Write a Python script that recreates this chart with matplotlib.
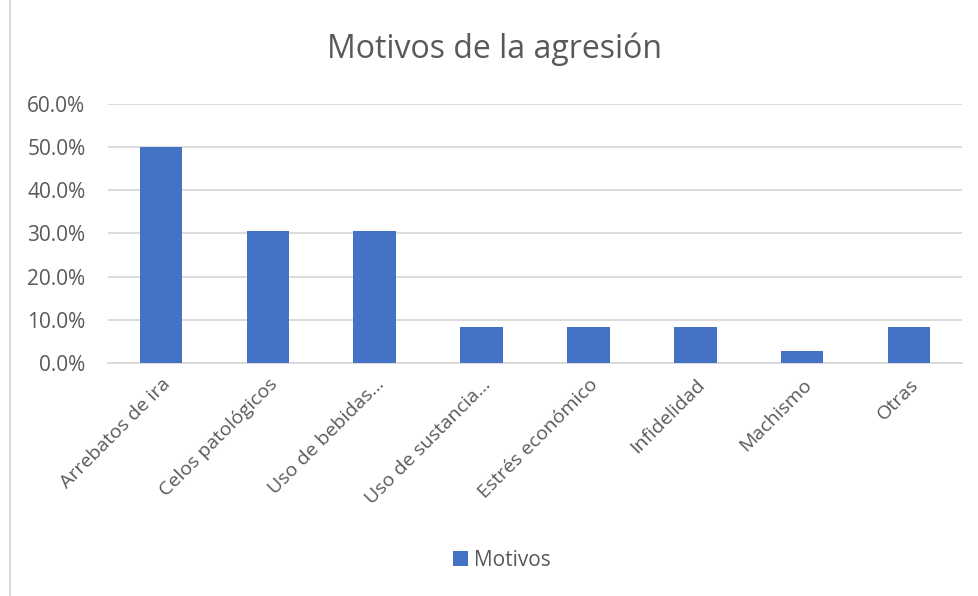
import matplotlib.pyplot as plt
from matplotlib.patches import Rectangle
from matplotlib.ticker import PercentFormatter

categories = ['Arrebatos de ira', 'Celos patológicos', 'Uso de bebidas…', 'Uso de sustancia…',
              'Estrés económico', 'Infidelidad', 'Machismo', 'Otras']
values = [0.500, 0.306, 0.306, 0.083, 0.083, 0.083, 0.028, 0.083]

text_color = '#595959'
bar_color = '#4472C4'
grid_color = '#D9D9D9'

plt.rcParams['font.family'] = ['Open Sans', 'DejaVu Sans']

fig = plt.figure(figsize=(9.79, 5.96), dpi=100)
ax = fig.add_axes([0.110, 0.391, 0.873, 0.4345])

x = range(len(categories))
ax.bar(x, values, width=0.4, color=bar_color, label='Motivos', zorder=3)

ax.set_ylim(0, 0.6)
ax.set_xlim(-0.5, len(categories) - 0.5)
ax.set_yticks([0, 0.1, 0.2, 0.3, 0.4, 0.5, 0.6])
ax.yaxis.set_major_formatter(PercentFormatter(1.0, decimals=1))
ax.grid(axis='y', color=grid_color, linewidth=1.3, zorder=0)
for s in ['top', 'right', 'left']:
    ax.spines[s].set_visible(False)
ax.spines['bottom'].set_color(grid_color)
ax.spines['bottom'].set_linewidth(1.3)
ax.tick_params(axis='both', length=0, colors=text_color)
ax.tick_params(axis='y', pad=16, labelsize=15)
ax.set_xticks(list(x))
ax.set_xticklabels(categories, rotation=45, ha='right', rotation_mode='anchor')
ax.tick_params(axis='x', pad=9, labelsize=14)

fig.text(0.505, 0.918, 'Motivos de la agresión', ha='center', va='center',
         fontsize=23, color=text_color)

ax.legend(loc='center', bbox_to_anchor=(0.513, 0.06), bbox_transform=fig.transFigure,
          frameon=False, fontsize=15, labelcolor=text_color, handlelength=0.7,
          handleheight=0.7, handletextpad=0.3)

fig.patches.append(Rectangle((0.01, -0.01), 0.999, 1.02, transform=fig.transFigure,
                             fill=False, edgecolor=grid_color, linewidth=1.5))

fig.savefig('out.png', dpi=100)
